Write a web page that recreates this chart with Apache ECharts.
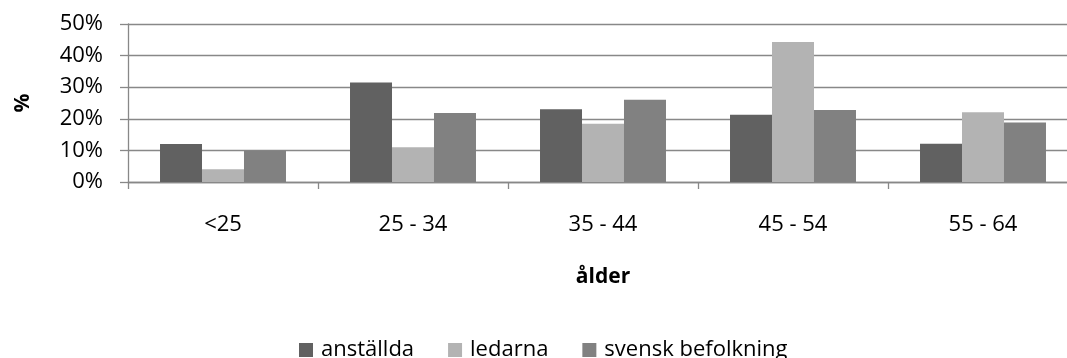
<!DOCTYPE html>
<html>
<head>
<meta charset="utf-8">
<script src="https://cdn.jsdelivr.net/npm/echarts@6/dist/echarts.min.js"></script>
<style>
  html, body { margin: 0; padding: 0; background: #fff; overflow: hidden; }
  #chart { width: 1078px; height: 358px; }
</style>
</head>
<body>
<div id="chart"></div>
<script>
// Age groups and share (%) per group for each population
const categories = ['<25', '25 - 34', '35 - 44', '45 - 54', '55 - 64'];
const anstallda = [12, 31.5, 23, 21.3, 12.1];
const ledarna = [4, 11, 18.4, 44.3, 22.1];
const svenskBefolkning = [10, 21.8, 26, 22.8, 18.8];
const seriesNames = ['anställda', 'ledarna', 'svensk befolkning'];
const seriesColors = ['#616161', '#b3b3b3', '#818181'];

const FONT = '"Open Sans", "Noto Sans", sans-serif';
const FS = 22;
const gridColor = '#888888';

const chart = echarts.init(document.getElementById('chart'), null, { renderer: 'canvas' });

const values = [anstallda, ledarna, svenskBefolkning];

chart.setOption({
  animation: false,
  backgroundColor: '#fff',
  textStyle: { fontFamily: FONT, color: '#000' },
  grid: { left: 128, right: 0, top: 24, bottom: 176, containLabel: false },
  legend: {
    left: 294,
    top: 334,
    itemWidth: 14,
    itemHeight: 14,
    itemGap: 34,
    icon: 'rect',
    data: seriesNames,
    textStyle: { fontFamily: FONT, fontSize: FS, color: '#000', padding: [0, 0, 0, 3] }
  },
  xAxis: {
    type: 'category',
    data: categories,
    name: 'ålder',
    nameLocation: 'middle',
    nameGap: 85,
    nameTextStyle: { fontFamily: FONT, fontSize: FS - 1, fontWeight: 'bold', color: '#000' },
    axisLine: { lineStyle: { color: gridColor, width: 1.3 } },
    axisTick: { show: true, length: 7, lineStyle: { color: gridColor, width: 1.3 } },
    axisLabel: { fontFamily: FONT, fontSize: FS, color: '#000', margin: 32 },
    splitLine: { show: false }
  },
  yAxis: {
    type: 'value',
    min: 0,
    max: 50,
    interval: 10,
    name: '%',
    nameLocation: 'middle',
    nameGap: 94,
    nameTextStyle: { fontFamily: FONT, fontSize: FS - 1, fontWeight: 'bold', color: '#000' },
    axisLine: { show: true, lineStyle: { color: gridColor, width: 1.3 } },
    axisTick: { show: true, length: 8, lineStyle: { color: gridColor, width: 1.3 } },
    axisLabel: { fontFamily: FONT, fontSize: FS, color: '#000', margin: 25, formatter: '{value}%' },
    splitLine: { show: true, lineStyle: { color: gridColor, width: 1.3 } }
  },
  series: seriesNames.map((name, i) => ({
    name: name,
    type: 'bar',
    data: values[i],
    barGap: '0%',
    barCategoryGap: '33.7%',
    itemStyle: { color: seriesColors[i] }
  }))
});
</script>
</body>
</html>
